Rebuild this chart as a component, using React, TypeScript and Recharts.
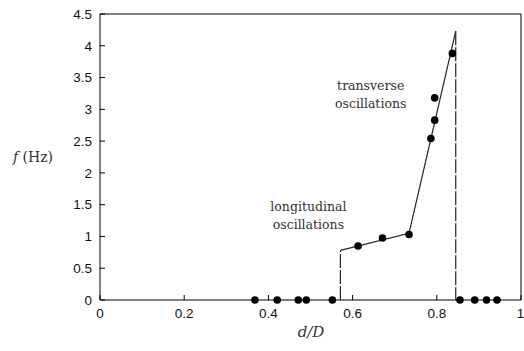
import {
  ComposedChart,
  Line,
  ReferenceDot,
  Scatter,
  XAxis,
  YAxis,
} from 'recharts'

// measured points, d/D vs f
const zeroX = [0.368, 0.421, 0.471, 0.49, 0.552, 0.855, 0.89, 0.918, 0.943]
const longitudinalX = [0.613, 0.671, 0.734]
const longitudinalY = [0.85, 0.975, 1.03]
const transverseX = [0.786, 0.795, 0.795, 0.837]
const transverseY = [2.54, 2.83, 3.18, 3.88]

// fitted curve
const jumpUpX = [0.571, 0.571]
const jumpUpY = [0, 0.78]
const fitX = [0.571, 0.734, 0.845]
const fitY = [0.78, 1.05, 4.23]
const jumpDownX = [0.845, 0.845]
const jumpDownY = [4.23, 0]

const xTicks = [0, 0.2, 0.4, 0.6, 0.8, 1]
const yTicks = [0, 0.5, 1, 1.5, 2, 2.5, 3, 3.5, 4, 4.5]

const toPoints = (xs: number[], ys: number[]) => xs.map((x, i) => ({ x, y: ys[i] }))

const measured = [
  ...zeroX.map((x) => ({ x, y: 0 })),
  ...toPoints(longitudinalX, longitudinalY),
  ...toPoints(transverseX, transverseY),
]

const tickStyle = { fill: '#111', fontSize: 13.5, fontFamily: 'Liberation Sans, Arial, sans-serif' }
const noteFont = 'DejaVu Serif, Liberation Serif, serif'

const renderNote = (lines: string[]) => (props: any) => {
  const { x, y } = props.viewBox
  return (
    <text x={x} y={y} textAnchor="middle" fill="#333" fontSize={12.5} fontFamily={noteFont}>
      {lines.map((line, i) => (
        <tspan key={line} x={x} dy={i === 0 ? -4 : 18}>
          {line}
        </tspan>
      ))}
    </text>
  )
}

const dot = (props: any) => <circle cx={props.cx} cy={props.cy} r={3.8} fill="#000" />

export default function App() {
  return (
    <div style={{ position: 'absolute', left: 0, top: 0, width: 524, height: 351 }}>
      <ComposedChart width={524} height={351} margin={{ top: 13, right: 2, bottom: 0, left: 0 }}>
        <XAxis
          dataKey="x"
          type="number"
          domain={[0, 1]}
          ticks={xTicks}
          height={51}
          stroke="#000"
          tickSize={-5}
          tickMargin={13}
          tick={tickStyle}
          label={{
            content: () => (
              <text x={311} y={337} textAnchor="middle" fill="#333" fontSize={15} fontStyle="italic" fontFamily={noteFont}>
                d/D
              </text>
            ),
          }}
        />
        <XAxis
          xAxisId="top"
          dataKey="x"
          type="number"
          orientation="top"
          domain={[0, 1]}
          ticks={xTicks}
          height={1}
          stroke="#000"
          tickSize={-5}
          tickFormatter={() => ''}
        />
        <YAxis
          type="number"
          domain={[0, 4.5]}
          ticks={yTicks}
          width={100}
          stroke="#000"
          tickSize={-5}
          tickMargin={13}
          tick={tickStyle}
          label={{
            content: () => (
              <text x={33} y={162} textAnchor="middle" fill="#333" fontSize={14} fontFamily={noteFont}>
                <tspan fontStyle="italic">f</tspan>
                <tspan> (Hz)</tspan>
              </text>
            ),
          }}
        />
        <YAxis
          yAxisId="right"
          type="number"
          orientation="right"
          domain={[0, 4.5]}
          ticks={yTicks}
          width={1}
          stroke="#000"
          tickSize={-5}
          tickFormatter={() => ''}
        />

        <Line
          data={toPoints(jumpUpX, jumpUpY)}
          dataKey="y"
          stroke="#222"
          strokeWidth={1.2}
          strokeDasharray="14 2"
          dot={false}
          activeDot={false}
          isAnimationActive={false}
        />
        <Line
          data={toPoints(fitX, fitY)}
          dataKey="y"
          stroke="#222"
          strokeWidth={1.2}
          dot={false}
          activeDot={false}
          isAnimationActive={false}
        />
        <Line
          data={toPoints(jumpDownX, jumpDownY)}
          dataKey="y"
          stroke="#222"
          strokeWidth={1.2}
          strokeDasharray="14 2"
          dot={false}
          activeDot={false}
          isAnimationActive={false}
        />
        <Scatter data={measured} dataKey="y" shape={dot} isAnimationActive={false} />

        <ReferenceDot x={0.643} y={3.24} r={0} stroke="none" label={renderNote(['transverse', 'oscillations'])} />
        <ReferenceDot x={0.495} y={1.34} r={0} stroke="none" label={renderNote(['longitudinal', 'oscillations'])} />
      </ComposedChart>
    </div>
  )
}
